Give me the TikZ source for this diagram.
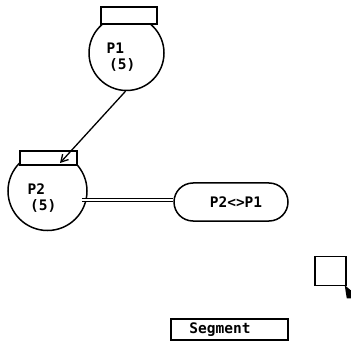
\documentclass[tikz,border=0pt]{standalone}
\usepackage{fontspec}
\setmonofont{DejaVu Sans Mono}
\usetikzlibrary{arrows.meta}
\begin{document}
\begin{tikzpicture}[x=1pt,y=-1pt,
  ln/.style={draw=black,line width=1.5pt},
  lbl/.style={font=\ttfamily\bfseries\fontsize{14.5}{15.5}\selectfont,inner sep=0pt,align=left},
  proc/.style={ln,circle,inner sep=0pt},
  topbox/.style={ln,rectangle,inner sep=0pt,fill=white}]
\useasboundingbox (0,0) rectangle (350,352);
% P1
\node[proc,minimum size=75pt] (p1) at (126.5,53) {};
\node[topbox,minimum width=56pt,minimum height=17pt] (p1top) at (129,15.5) {};
\node[lbl] (p1lbl) at (121,57) {P1\\\,(5)};
% P2
\node[proc,minimum size=79pt] (p2) at (47.5,191) {};
\node[topbox,minimum width=57pt,minimum height=14pt] (p2top) at (48.5,158) {};
\node[lbl] (p2lbl) at (42,198) {P2\\\,(5)};
% arrow
\coordinate (tip) at (60,163);
\draw[line width=1.3pt,-{Straight Barb[length=7pt,width=8pt]}] (p1.south) ++(-1,0) coordinate (p1s) (p1s) -- (tip);
% relation
\node[ln,rectangle,rounded corners=19pt,minimum width=114pt,minimum height=38pt,inner sep=0pt] (rel) at (231,202) {};
\node[lbl] (rellbl) at (236,202) {P2<>P1};
\draw[line width=1.1pt,double distance=2pt] (p2.east |- 0,200) ++(-6,0) coordinate (ds) (ds) -- (rel.west |- 0,200);
% small square
\node[ln,rectangle,minimum width=31pt,minimum height=29pt,inner sep=0pt] (sq) at (330.5,271) {};
\fill (sq.south east) ++(-2,-1) coordinate (cur) (cur) -- ++(6,5) -- ++(0,8) -- ++(-4,0) -- ++(-1,-6) -- cycle;
% segment box
\node[ln,rectangle,minimum width=117pt,minimum height=21pt,inner sep=0pt] (seg) at (229.5,329.5) {};
\node[lbl] (seglbl) at (220,329.5) {Segment};
\end{tikzpicture}
\end{document}
